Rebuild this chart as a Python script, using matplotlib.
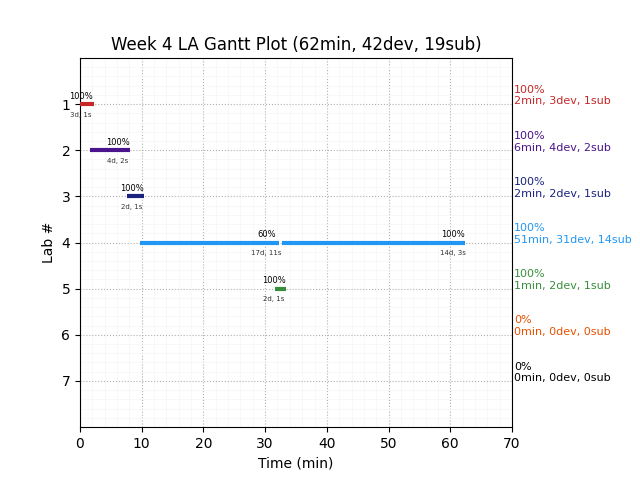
import matplotlib
matplotlib.use("Agg")
import matplotlib.pyplot as plt
from matplotlib.ticker import MultipleLocator

labs = [1, 2, 3, 4, 5, 6, 7]
colors = ["#c62828", "#4a148c", "#1a237e", "#2196f3", "#388e3c", "#e65100", "#000000"]
# segments per lab: (start, end, pct label, devices/subs label)
segments = {
    1: [(0.0, 2.2, "100%", "3d, 1s")],
    2: [(1.6, 8.1, "100%", "4d, 2s")],
    3: [(7.6, 10.4, "100%", "2d, 1s")],
    4: [(9.7, 32.2, "60%", "17d, 11s"), (32.7, 62.4, "100%", "14d, 3s")],
    5: [(31.6, 33.4, "100%", "2d, 1s")],
    6: [],
    7: [],
}
summary_pct = ["100%", "100%", "100%", "100%", "100%", "0%", "0%"]
summary_txt = ["2min, 3dev, 1sub", "6min, 4dev, 2sub", "2min, 2dev, 1sub",
               "51min, 31dev, 14sub", "1min, 2dev, 1sub", "0min, 0dev, 0sub",
               "0min, 0dev, 0sub"]

fig = plt.figure(figsize=(6.4, 4.8), dpi=100)
ax = fig.add_axes([80/640, 1-427/480, 432/640, 369/480])

for lab, col in zip(labs, colors):
    for (s, e, pct, ds) in segments[lab]:
        ax.plot([s, e], [lab, lab], color=col, lw=3, solid_capstyle="butt", zorder=3)
        ax.text(e - 2, lab - 0.07, pct, fontsize=6, ha="center", va="bottom")
        ax.text(e - 2, lab + 0.17, ds, fontsize=5, ha="center", va="top", color="#333333")

for lab, col, p, t in zip(labs, colors, summary_pct, summary_txt):
    ax.text(70.3, lab + 0.05, p + "\n" + t, fontsize=8, color=col, ha="left",
            va="bottom", clip_on=False, linespacing=1.2)

ax.set_xlim(0, 70)
ax.set_ylim(8, 0)
ax.set_yticks(labs)
ax.xaxis.set_major_locator(MultipleLocator(10))
ax.xaxis.set_minor_locator(MultipleLocator(2))
ax.yaxis.set_minor_locator(MultipleLocator(0.2))
ax.grid(which="major", linestyle=":", color="#b0b0b0", lw=0.8)
ax.grid(which="minor", linestyle="-", color="#f5f5f5", lw=0.5)
ax.tick_params(which="minor", length=0)
ax.set_axisbelow(True)
ax.set_xlabel("Time (min)")
ax.set_ylabel("Lab #")
ax.set_title("Week 4 LA Gantt Plot (62min, 42dev, 19sub)")

fig.savefig("out.png", dpi=100)
